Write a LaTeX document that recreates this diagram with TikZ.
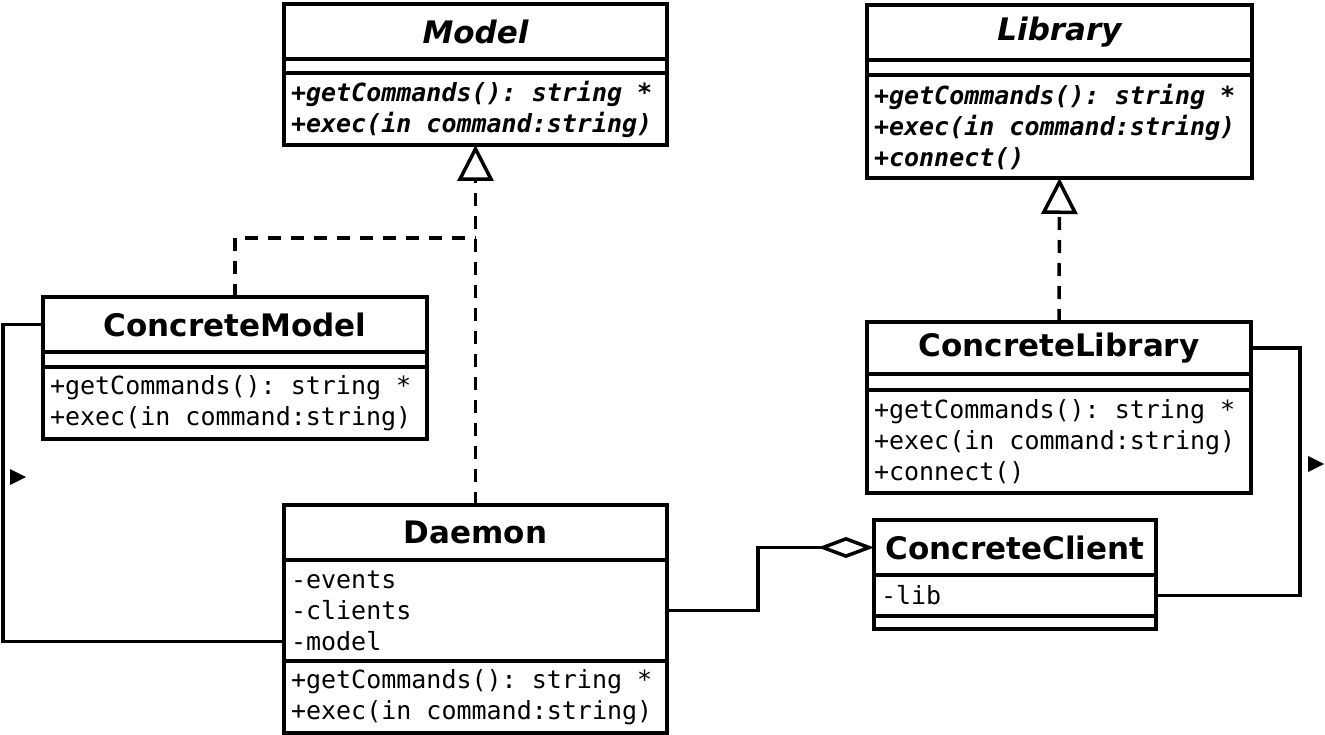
\documentclass[tikz,border=0pt]{standalone}
\usepackage{fontspec}
\setmainfont{DejaVu Sans}
\setmonofont[WordSpace={1,0,0}]{DejaVu Sans Mono}
\usetikzlibrary{positioning,arrows.meta}

\tikzset{
  box/.style={draw, line width=3.5pt, inner sep=0pt, outer sep=0pt},
  classname/.style={box, minimum height=55pt, font=\bfseries\fontsize{31}{36}\selectfont},
  absclassname/.style={classname, font=\bfseries\itshape\fontsize{31}{36}\selectfont},
  blank/.style={box, minimum height=15pt},
  members/.style={box, inner xsep=7pt, align=left, font=\ttfamily\fontsize{25}{31}\selectfont,
    execute at begin node={\spaceskip=0pt\xspaceskip=0pt\relax}},
  absmembers/.style={members, font=\ttfamily\bfseries\itshape\fontsize{25}{31}\selectfont},
  realize/.style={line width=3.5pt, dash pattern=on 13pt off 10pt, -{Triangle[open, length=36pt, width=36pt]}},
  assoc/.style={line width=3.5pt},
  aggr/.style={line width=3.5pt, -{Diamond[open, length=56pt, width=21pt]}},
}

\begin{document}
\begin{tikzpicture}[x=1pt, y=-1pt]
\useasboundingbox (0,0) rectangle (1325,735);

\node[absclassname, minimum width=383pt, anchor=north west] (model) at (284,4) {Model};
\node[blank, minimum width=383pt, minimum height=14pt, below=0pt of model] (modelattr) {};
\node[absmembers, text width=369pt, minimum height=72pt, below=0pt of modelattr] (modelops) {+getCommands(): string *\\+exec(in command:string)};

\node[absclassname, minimum width=385pt, anchor=north west] (lib) at (867,5) {Library};
\node[blank, minimum width=385pt, below=0pt of lib] (libattr) {};
\node[absmembers, text width=371pt, minimum height=103pt, below=0pt of libattr] (libops) {+getCommands(): string *\\+exec(in command:string)\\+connect()};

\node[classname, minimum width=384pt, anchor=north west] (cmodel) at (43,297) {ConcreteModel};
\node[blank, minimum width=384pt, below=0pt of cmodel] (cmodelattr) {};
\node[members, text width=370pt, minimum height=72pt, below=0pt of cmodelattr] (cmodelops) {+getCommands(): string *\\+exec(in command:string)};

\node[classname, minimum width=384pt, minimum height=52pt, anchor=north west] (clib) at (867,322) {ConcreteLibrary};
\node[blank, minimum width=384pt, minimum height=16pt, below=0pt of clib] (clibattr) {};
\node[members, text width=370pt, minimum height=103pt, below=0pt of clibattr] (clibops) {+getCommands(): string *\\+exec(in command:string)\\+connect()};

\node[classname, minimum width=383pt, anchor=north west] (daemon) at (284,505) {Daemon};
\node[members, text width=369pt, minimum height=101pt, below=0pt of daemon] (daemonattr) {-events\\-clients\\-model};
\node[members, text width=369pt, minimum height=72pt, below=0pt of daemonattr] (daemonops) {+getCommands(): string *\\+exec(in command:string)};

\node[classname, minimum width=282pt, anchor=north west] (client) at (874,520) {ConcreteClient};
\node[members, text width=268pt, minimum height=41pt, below=0pt of client] (clientattr) {-lib};
\node[blank, minimum width=282pt, minimum height=13pt, below=0pt of clientattr] (clientops) {};

\coordinate (mjoin) at ([yshift=-93pt]modelops.south);

\draw[realize] (daemon.north) -- (modelops.south);
\draw[line width=3.5pt, dash pattern=on 13pt off 10pt] (cmodel.north) |- (mjoin);
\draw[realize] (clib.north) -- (libops.south);
\draw[assoc] ([yshift=-31pt]daemonattr.west) -- ++(-281,0) |- (cmodel.west);
\draw[assoc] (clientattr.east) -- ++(144,0) |- (clib.east);
\draw[aggr] (daemonattr.east) -- ++(91,0) |- (client.west);

\fill (10,469) -- (26,477) -- (10,485) -- cycle;
\fill (1308,456) -- (1324,464) -- (1308,472) -- cycle;

\end{tikzpicture}
\end{document}
